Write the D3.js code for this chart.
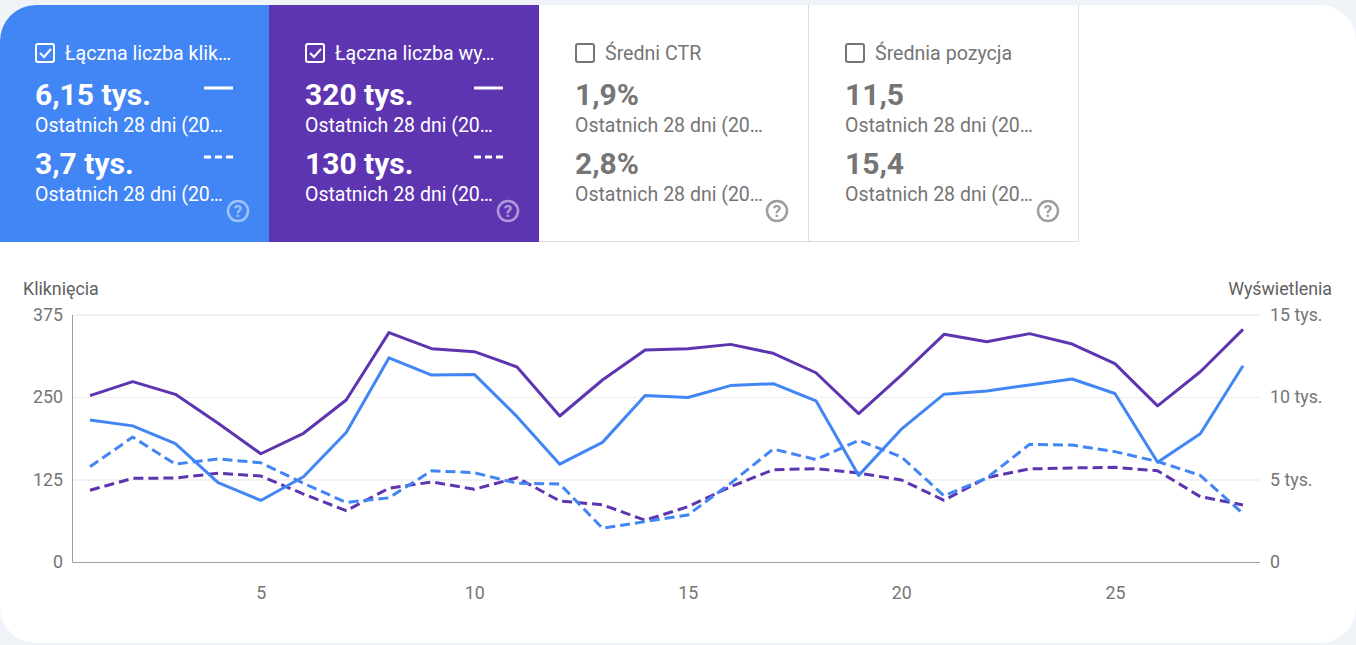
<!DOCTYPE html>
<html>
<head>
<meta charset="utf-8">
<script src="https://cdn.jsdelivr.net/npm/d3@7"></script>
<style>
html, body { margin: 0; padding: 0; background: #f0f3f8; overflow: hidden; }
text { font-family: Roboto, sans-serif; }
</style>
</head>
<body>
<svg id="chart" width="1356" height="645"></svg>
<script>
var days = d3.range(1, 29);
var xTicks = [5, 10, 15, 20, 25];
var leftTicks = [0, 125, 250, 375];
var rightTicks = [0, 5000, 10000, 15000];
var rightLabels = ["0", "5 tys.", "10 tys.", "15 tys."];

var clicksNow = [216, 207, 180, 121, 94, 130, 197, 310, 284, 285, 221, 149, 182, 253, 250, 268, 271, 245, 132, 202, 255, 260, 269, 278, 256, 152, 195, 298];
var clicksPrev = [145, 190, 149, 157, 151, 120, 91, 98, 139, 136, 120, 119, 52, 62, 72, 120, 172, 156, 185, 160, 101, 128, 179, 178, 168, 153, 132, 74];
var viewsNow = [10110, 10960, 10190, 8440, 6590, 7830, 9850, 13930, 12960, 12780, 11850, 8880, 11060, 12880, 12960, 13220, 12680, 11500, 9020, 11360, 13830, 13380, 13870, 13240, 12050, 9490, 11560, 14130];
var viewsPrev = [4380, 5100, 5120, 5410, 5240, 4150, 3140, 4500, 4880, 4440, 5140, 3730, 3500, 2560, 3380, 4590, 5620, 5690, 5420, 5000, 3770, 5140, 5670, 5730, 5770, 5560, 3990, 3490];

var cardTitles = ["Łączna liczba klik…", "Łączna liczba wy…", "Średni CTR", "Średnia pozycja"];
var cardNow = ["6,15 tys.", "320 tys.", "1,9%", "11,5"];
var cardPrev = ["3,7 tys.", "130 tys.", "2,8%", "15,4"];
var cardFill = ["#4285f4", "#5e35b1", "#ffffff", "#ffffff"];
var cardEdges = [0, 269, 539, 808, 1079];
var cardInset = [35, 36, 36, 37];
var periodLabel = "Ostatnich 28 dni (20…";

var blue = "#4285f4", purple = "#5e35b1", grey = "#757575";
var svg = d3.select("#chart");

// white rounded panel
svg.append("rect").attr("x", 0).attr("y", 5).attr("width", 1356).attr("height", 638)
    .attr("rx", 36).attr("fill", "#fff");

// tiles
var clip = svg.append("defs").append("clipPath").attr("id", "panel");
clip.append("rect").attr("x", 0).attr("y", 5).attr("width", 1356).attr("height", 638).attr("rx", 36);

cardTitles.forEach(function (title, i) {
    var left = cardEdges[i], right = cardEdges[i + 1];
    svg.append("rect").attr("x", left).attr("y", 5).attr("width", right - left).attr("height", 237)
        .attr("fill", cardFill[i]).attr("clip-path", "url(#panel)");
});

cardTitles.forEach(function (title, i) {
    var selected = i < 2;
    var fg = selected ? "#fff" : grey;
    var left = cardEdges[i], right = cardEdges[i + 1];
    var tx = left + cardInset[i];
    var g = svg.append("g");
    if (!selected) {
        g.append("path").attr("d", "M" + (right - (i == 3 ? 0.5 : -0.5)) + ",5V241.5H" + left)
            .attr("fill", "none").attr("stroke", "#dadce0");
    }
    // checkbox
    g.append("rect").attr("x", tx + 1).attr("y", 44).attr("width", 18).attr("height", 18).attr("rx", 2)
        .attr("fill", "none").attr("stroke", fg).attr("stroke-width", 2);
    if (selected) {
        g.append("path").attr("d", "M" + (tx + 5) + ",53l4,4l7,-8")
            .attr("fill", "none").attr("stroke", fg).attr("stroke-width", 2);
    }
    g.append("text").attr("x", tx + 30).attr("y", 60).attr("font-size", 19.6).attr("fill", fg).text(title);
    g.append("text").attr("x", tx).attr("y", 105).attr("font-size", 30).attr("font-weight", 700).attr("fill", fg).text(cardNow[i]);
    g.append("text").attr("x", tx).attr("y", 132).attr("font-size", 19.5).attr("fill", fg).text(periodLabel);
    g.append("text").attr("x", tx).attr("y", 174).attr("font-size", 30).attr("font-weight", 700).attr("fill", fg).text(cardPrev[i]);
    g.append("text").attr("x", tx).attr("y", 201).attr("font-size", 19.5).attr("fill", fg).text(periodLabel);
    if (selected) {
        g.append("line").attr("x1", tx + 169).attr("x2", tx + 198).attr("y1", 88).attr("y2", 88)
            .attr("stroke", "#fff").attr("stroke-width", 3);
        g.append("line").attr("x1", tx + 169).attr("x2", tx + 198).attr("y1", 157).attr("y2", 157)
            .attr("stroke", "#fff").attr("stroke-width", 3).attr("stroke-dasharray", "7,4");
    }
    // help icon
    var help = g.append("g").attr("opacity", selected ? 0.5 : 0.7);
    help.append("circle").attr("cx", right - 31).attr("cy", 211).attr("r", 10)
        .attr("fill", "none").attr("stroke", fg).attr("stroke-width", 2.5);
    help.append("text").attr("x", right - 31).attr("y", 217).attr("text-anchor", "middle")
        .attr("font-size", 17).attr("font-weight", 700).attr("fill", fg).text("?");
});

// scales
var x = d3.scaleLinear().domain([1, 28]).range([90, 1243]);
var yClicks = d3.scaleLinear().domain([0, 375]).range([562.5, 315]);
var yViews = d3.scaleLinear().domain([0, 15000]).range([562.5, 315]);

// grid
svg.append("g").selectAll("line").data(leftTicks.slice(1)).join("line")
    .attr("x1", 72).attr("x2", 1260)
    .attr("y1", function (d) { return yClicks(d); })
    .attr("y2", function (d) { return yClicks(d); })
    .attr("stroke", "#eeeeee").attr("stroke-width", function (d) { return d == 250 ? 1 : 1.5; });

// axes
var axisLeft = svg.append("g").attr("transform", "translate(63,-0.7)")
    .call(d3.axisLeft(yClicks).tickValues(leftTicks).tickSize(0).tickPadding(0));
var axisRight = svg.append("g").attr("transform", "translate(1270,-0.7)")
    .call(d3.axisRight(yViews).tickValues(rightTicks).tickSize(0).tickPadding(0)
        .tickFormat(function (d, i) { return rightLabels[i]; }));
var axisBottom = svg.append("g").attr("transform", "translate(0,586)")
    .call(d3.axisBottom(x).tickValues(xTicks).tickSize(0).tickPadding(0));
[axisLeft, axisRight, axisBottom].forEach(function (a) {
    a.select(".domain").remove();
    a.selectAll("text").attr("font-size", 17.8).attr("font-family", "Roboto, sans-serif").attr("fill", grey);
});

svg.append("path").attr("d", "M72.5,315V562.5H1260").attr("fill", "none").attr("stroke", "#9e9e9e").attr("stroke-width", 1);

svg.append("text").attr("x", 23).attr("y", 295).attr("font-size", 17.8).attr("fill", "#616161").text("Kliknięcia");
svg.append("text").attr("x", 1332).attr("y", 295).attr("text-anchor", "end").attr("font-size", 17.8).attr("fill", "#616161").text("Wyświetlenia");

// lines
function drawLine(values, scale, color, dash) {
    var line = d3.line()
        .x(function (d, i) { return x(days[i]); })
        .y(function (d) { return scale(d); });
    svg.append("path").datum(values).attr("d", line)
        .attr("fill", "none").attr("stroke", color).attr("stroke-width", 3)
        .attr("stroke-linejoin", "round")
        .attr("stroke-dasharray", dash ? "10,5" : null);
}
drawLine(viewsPrev, yViews, purple, true);
drawLine(clicksPrev, yClicks, blue, true);
drawLine(viewsNow, yViews, purple, false);
drawLine(clicksNow, yClicks, blue, false);
</script>
</body>
</html>
